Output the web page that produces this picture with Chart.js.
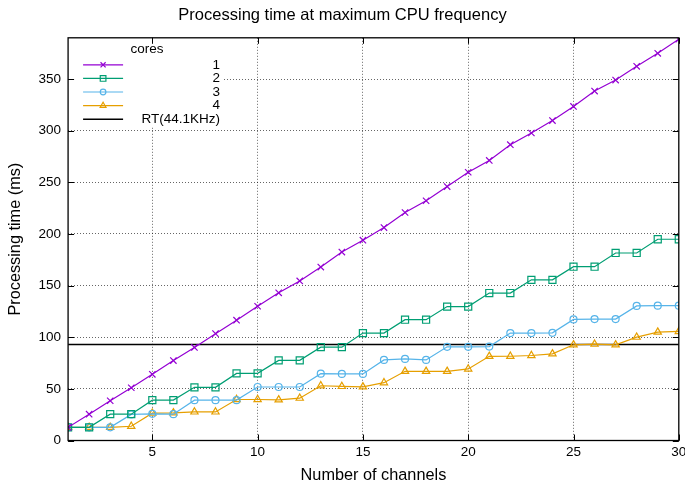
<!DOCTYPE html>
<html>
<head>
<meta charset="utf-8">
<title>Processing time at maximum CPU frequency</title>
<script src="https://cdn.jsdelivr.net/npm/chart.js@4.4.1/dist/chart.umd.min.js"></script>
<style>
  html, body { margin: 0; padding: 0; background: #fff; }
  #chart { display: block; }
</style>
</head>
<body>
<canvas id="chart" width="685" height="484"></canvas>
<script>
// channel counts on the x axis
const channels = [1, 2, 3, 4, 5, 6, 7, 8, 9, 10, 11, 12, 13, 14, 15,
  16, 17, 18, 19, 20, 21, 22, 23, 24, 25, 26, 27, 28, 29, 30];

// processing time (ms) per number of cores
const core1 = [12.8, 25.5, 38.5, 51.1, 64.1, 77.4, 90.1, 103.5, 116.5, 130.0,
  143.0, 154.5, 168.0, 182.5, 194.0, 206.2, 220.8, 232.2, 245.9, 259.8,
  271.2, 286.5, 297.8, 309.8, 323.5, 338.4, 349.1, 362.4, 375.0, 388.7];
const core2 = [12.8, 12.8, 25.5, 25.5, 39.1, 39.1, 51.5, 51.5, 65.0, 65.0,
  77.6, 77.6, 90.4, 90.4, 104.0, 104.0, 117.0, 117.0, 129.7, 129.7,
  142.8, 142.8, 155.6, 155.6, 168.3, 168.3, 181.6, 181.6, 194.9, 194.9];
const core3 = [12.8, 12.8, 12.8, 25.3, 25.8, 25.5, 39.1, 39.1, 39.1, 51.8,
  51.8, 51.8, 64.7, 64.5, 64.5, 78.0, 79.0, 78.0, 90.7, 90.7,
  91.0, 104.0, 104.0, 104.3, 117.3, 117.6, 117.6, 130.3, 130.6, 130.6];
const core4 = [12.8, 12.8, 12.8, 13.8, 26.5, 26.8, 27.7, 27.7, 39.7, 39.7,
  39.4, 41.0, 53.0, 52.4, 52.0, 56.0, 67.0, 67.0, 67.0, 69.3,
  81.5, 81.6, 82.3, 83.9, 92.7, 93.3, 92.7, 100.1, 105.0, 105.6];

// real-time budget: 4096 samples at 44.1 kHz
const realTimeMs = 92.88;

const seriesLabels = ["1", "2", "3", "4"];
const xTicks = [5, 10, 15, 20, 25, 30];
const yTicks = [0, 50, 100, 150, 200, 250, 300, 350];

const FONT = "'Liberation Sans', Arial, Helvetica, sans-serif";
Chart.defaults.font.family = FONT;
Chart.defaults.color = "#000";

function pairs(values) {
  return values.map((v, i) => ({ x: channels[i], y: v }));
}

function coreSet(label, values, color, style, radius) {
  return {
    label: label,
    data: pairs(values),
    borderColor: color,
    backgroundColor: "rgba(0,0,0,0)",
    borderWidth: 1.2,
    pointStyle: style,
    pointRadius: radius,
    pointHoverRadius: radius,
    pointBorderWidth: 1.2,
    pointBorderColor: color,
    pointBackgroundColor: "rgba(0,0,0,0)",
    tension: 0
  };
}

const datasets = [
  coreSet(seriesLabels[0], core1, "#9400d3", "crossRot", 4.5),
  coreSet(seriesLabels[1], core2, "#009e73", "rect", 5),
  coreSet(seriesLabels[2], core3, "#56b4e9", "circle", 3.5),
  coreSet(seriesLabels[3], core4, "#e69f00", "triangle", 4.2),
  {
    label: "RT(44.1KHz)",
    data: [{ x: channels[0], y: realTimeMs }, { x: channels[channels.length - 1], y: realTimeMs }],
    borderColor: "#000",
    borderWidth: 1.5,
    pointRadius: 0,
    pointHoverRadius: 0,
    tension: 0
  }
];

// white key box in the top-left corner of the plot, gnuplot style
const keyBox = {
  id: "keyBox",
  beforeDatasetsDraw(chart) {
    const { ctx, chartArea } = chart;
    const x0 = chartArea.left + 1;
    const y0 = chartArea.top + 1;
    const rowH = 13.6;
    ctx.save();
    ctx.fillStyle = "#fff";
    ctx.fillRect(x0, y0, 154, 88);

    ctx.font = "13.5px " + FONT;
    ctx.fillStyle = "#000";
    ctx.textBaseline = "middle";
    ctx.textAlign = "center";
    ctx.fillText("cores", x0 + 78, y0 + 10);

    chart.data.datasets.forEach((ds, i) => {
      const y = y0 + 26 + i * rowH;
      ctx.strokeStyle = ds.borderColor;
      ctx.lineWidth = ds.borderWidth;
      ctx.beginPath();
      ctx.moveTo(x0 + 14, y);
      ctx.lineTo(x0 + 54, y);
      ctx.stroke();
      if (ds.pointRadius > 0) {
        ctx.fillStyle = "rgba(0,0,0,0)";
        Chart.helpers.drawPoint(ctx, {
          pointStyle: ds.pointStyle,
          radius: ds.pointRadius * 0.8,
          rotation: 0,
          borderWidth: ds.pointBorderWidth
        }, x0 + 34, y);
      }
      ctx.fillStyle = "#000";
      ctx.textAlign = "right";
      ctx.fillText(ds.label, x0 + 151, y);
    });
    ctx.restore();
  }
};

// solid frame with inward tics on all four sides
const frame = {
  id: "frame",
  afterDraw(chart) {
    const { ctx, chartArea, scales } = chart;
    const { left, right, top, bottom } = chartArea;
    const len = 6;
    ctx.save();
    ctx.strokeStyle = "#000";
    ctx.lineWidth = 1;
    ctx.beginPath();
    yTicks.forEach(v => {
      const y = Math.round(scales.y.getPixelForValue(v)) + 0.5;
      ctx.moveTo(left, y); ctx.lineTo(left + len, y);
      ctx.moveTo(right, y); ctx.lineTo(right - len, y);
    });
    xTicks.forEach(v => {
      const x = Math.round(scales.x.getPixelForValue(v)) + 0.5;
      ctx.moveTo(x, bottom); ctx.lineTo(x, bottom - len);
      ctx.moveTo(x, top); ctx.lineTo(x, top + len);
    });
    ctx.stroke();
    ctx.lineWidth = 1.3;
    ctx.strokeRect(left, top, right - left, bottom - top);
    ctx.restore();
  }
};

new Chart(document.getElementById("chart"), {
  type: "line",
  data: { datasets: datasets },
  plugins: [keyBox, frame],
  options: {
    responsive: false,
    animation: false,
    events: [],
    layout: { padding: { left: 6, right: 6, top: 0, bottom: 0 } },
    plugins: {
      legend: { display: false },
      tooltip: { enabled: false },
      title: {
        display: true,
        text: "Processing time at maximum CPU frequency",
        font: { size: 16.5, weight: "normal" },
        color: "#000",
        padding: { top: 6, bottom: 12 }
      }
    },
    scales: {
      x: {
        type: "linear",
        min: 1,
        max: 30,
        afterBuildTicks: axis => { axis.ticks = xTicks.map(v => ({ value: v })); },
        afterFit: axis => { axis.paddingRight = 0; },
        ticks: { font: { size: 13.5 }, padding: 4, maxRotation: 0 },
        grid: {
          drawTicks: false,
          color: ctx => (ctx.tick && ctx.tick.value < 30 ? "rgba(0,0,0,0.6)" : "rgba(0,0,0,0)"),
          lineWidth: 1
        },
        border: { display: false, dash: [1, 2] },
        title: {
          display: true,
          text: "Number of channels",
          font: { size: 16.3, lineHeight: 1.0 },
          padding: { top: 3, bottom: 0 }
        }
      },
      y: {
        type: "linear",
        min: 0,
        max: 390,
        afterBuildTicks: axis => { axis.ticks = yTicks.map(v => ({ value: v })); },
        ticks: { font: { size: 13.5 }, padding: 7 },
        grid: {
          drawTicks: false,
          color: ctx => (ctx.tick && ctx.tick.value > 0 ? "rgba(0,0,0,0.6)" : "rgba(0,0,0,0)"),
          lineWidth: 1
        },
        border: { display: false, dash: [1, 2] },
        title: {
          display: true,
          text: "Processing time (ms)",
          font: { size: 16.3 },
          padding: { top: 0, bottom: 6 }
        }
      }
    }
  }
});
</script>
</body>
</html>
